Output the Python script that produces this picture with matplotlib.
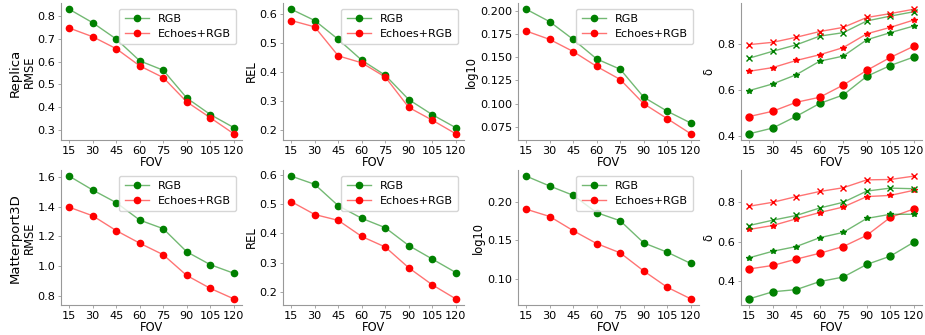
import matplotlib.pyplot as plt
import numpy as np

fov = [15, 30, 45, 60, 75, 90, 105, 120]

# Replica
rep_rmse_rgb = [0.828, 0.769, 0.698, 0.603, 0.562, 0.441, 0.369, 0.312]
rep_rmse_echo = [0.746, 0.708, 0.656, 0.581, 0.530, 0.424, 0.355, 0.285]
rep_rel_rgb = [0.617, 0.578, 0.513, 0.441, 0.389, 0.305, 0.253, 0.208]
rep_rel_echo = [0.578, 0.556, 0.456, 0.432, 0.383, 0.278, 0.234, 0.187]
rep_log_rgb = [0.2014, 0.188, 0.169, 0.148, 0.137, 0.107, 0.092, 0.0793]
rep_log_echo = [0.178, 0.169, 0.156, 0.140, 0.126, 0.100, 0.084, 0.0678]
rep_d1_rgb = [0.409, 0.434, 0.485, 0.541, 0.578, 0.659, 0.706, 0.743]
rep_d1_echo = [0.484, 0.507, 0.546, 0.568, 0.621, 0.685, 0.741, 0.790]
rep_d2_rgb = [0.597, 0.626, 0.666, 0.725, 0.747, 0.818, 0.849, 0.878]
rep_d2_echo = [0.681, 0.697, 0.728, 0.753, 0.784, 0.844, 0.872, 0.904]
rep_d3_rgb = [0.738, 0.768, 0.796, 0.834, 0.849, 0.900, 0.921, 0.940]
rep_d3_echo = [0.797, 0.807, 0.829, 0.854, 0.872, 0.915, 0.932, 0.951]

# Matterport3D
mp_rmse_rgb = [1.607, 1.513, 1.428, 1.310, 1.252, 1.096, 1.009, 0.951]
mp_rmse_echo = [1.397, 1.339, 1.239, 1.154, 1.076, 0.936, 0.849, 0.778]
mp_rel_rgb = [0.595, 0.567, 0.494, 0.451, 0.419, 0.358, 0.312, 0.266]
mp_rel_echo = [0.508, 0.464, 0.444, 0.389, 0.353, 0.282, 0.224, 0.176]
mp_log_rgb = [0.2336, 0.2207, 0.2086, 0.186, 0.1754, 0.1466, 0.1345, 0.1198]
mp_log_echo = [0.1905, 0.181, 0.1625, 0.1457, 0.1336, 0.110, 0.0888, 0.0737]
mp_d1_rgb = [0.309, 0.345, 0.356, 0.397, 0.420, 0.484, 0.526, 0.597]
mp_d1_echo = [0.461, 0.479, 0.511, 0.541, 0.575, 0.632, 0.723, 0.766]
mp_d2_rgb = [0.518, 0.551, 0.575, 0.620, 0.647, 0.718, 0.739, 0.739]
mp_d2_echo = [0.662, 0.682, 0.716, 0.748, 0.776, 0.829, 0.835, 0.861]
mp_d3_rgb = [0.682, 0.709, 0.733, 0.771, 0.800, 0.857, 0.872, 0.869]
mp_d3_echo = [0.780, 0.800, 0.829, 0.855, 0.874, 0.914, 0.916, 0.933]

row_names = ['Replica', 'Matterport3D']
metric_names = ['RMSE', 'REL', 'log10', 'δ']

W, H = 925, 335
fig = plt.figure(figsize=(W / 100, H / 100), dpi=100)

lefts = [61, 283, 518, 741]
rows = [(3, 140), (170, 305)]
axw = 181

GREEN_LINE = (0, 0.5, 0, 0.55)
RED_LINE = (1, 0, 0, 0.55)


def make_ax(r, c):
    top, bot = rows[r]
    ax = fig.add_axes([lefts[c] / W, (H - bot) / H, axw / W, (bot - top) / H])
    for s in ['top', 'right']:
        ax.spines[s].set_visible(False)
    for s in ['left', 'bottom']:
        ax.spines[s].set_color('#999999')
        ax.spines[s].set_linewidth(0.8)
    ax.tick_params(length=2, width=0.6, color='#999999', labelsize=8.1, pad=2)
    ax.set_xticks(fov)
    ax.set_xlabel('FOV', fontsize=8.3, labelpad=0.5)
    return ax


def line(ax, y, color, marker, ms):
    lc = GREEN_LINE if color == 'green' else RED_LINE
    ax.plot(fov, y, color=lc, linewidth=1)
    ax.plot(fov, y, color=color, marker=marker, linestyle='none', markersize=ms)


def pair(ax, rgb, echo, ylabel, yticks, fmt):
    line(ax, rgb, 'green', 'o', 4.5)
    line(ax, echo, 'red', 'o', 4.5)
    h1 = plt.Line2D([], [], color=GREEN_LINE, marker='o', markersize=4.5,
                    linewidth=1, markeredgecolor='green', markerfacecolor='green')
    h2 = plt.Line2D([], [], color=RED_LINE, marker='o', markersize=4.5,
                    linewidth=1, markeredgecolor='red', markerfacecolor='red')
    ax.legend([h1, h2], ['RGB', 'Echoes+RGB'], loc='upper right', fontsize=8,
              bbox_to_anchor=(1.0, 1.0), handlelength=2.2, borderpad=0.5,
              labelspacing=0.4)
    ax.set_yticks(yticks)
    ax.set_yticklabels([fmt.format(v) for v in yticks])
    ax.set_ylabel(ylabel, fontsize=8.3, labelpad=1.5)


data = [
    [(rep_rmse_rgb, rep_rmse_echo, [0.3, 0.4, 0.5, 0.6, 0.7, 0.8], '{:.1f}'),
     (rep_rel_rgb, rep_rel_echo, [0.2, 0.3, 0.4, 0.5, 0.6], '{:.1f}'),
     (rep_log_rgb, rep_log_echo, [0.075, 0.1, 0.125, 0.15, 0.175, 0.2], '{:.3f}')],
    [(mp_rmse_rgb, mp_rmse_echo, [0.8, 1.0, 1.2, 1.4, 1.6], '{:.1f}'),
     (mp_rel_rgb, mp_rel_echo, [0.2, 0.3, 0.4, 0.5, 0.6], '{:.1f}'),
     (mp_log_rgb, mp_log_echo, [0.1, 0.15, 0.2], '{:.2f}')],
]
deltas = [
    (rep_d1_rgb, rep_d1_echo, rep_d2_rgb, rep_d2_echo, rep_d3_rgb, rep_d3_echo),
    (mp_d1_rgb, mp_d1_echo, mp_d2_rgb, mp_d2_echo, mp_d3_rgb, mp_d3_echo),
]

for r in range(2):
    for c in range(3):
        ax = make_ax(r, c)
        rgb, echo, ticks, fmt = data[r][c]
        pair(ax, rgb, echo, metric_names[c], ticks, fmt)
    ax = make_ax(r, 3)
    d1g, d1r, d2g, d2r, d3g, d3r = deltas[r]
    line(ax, d1g, 'green', 'o', 5)
    line(ax, d1r, 'red', 'o', 5)
    line(ax, d2g, 'green', '*', 4)
    line(ax, d2r, 'red', '*', 4)
    line(ax, d3g, 'green', 'x', 5)
    line(ax, d3r, 'red', 'x', 5)
    ax.set_yticks([0.4, 0.6, 0.8])
    ax.set_ylabel(metric_names[3], fontsize=8.3, labelpad=1.5)

    top, bot = rows[r]
    fig.text(15 / W, 1 - ((top + bot) / 2 + 1) / H, row_names[r], rotation=90,
             ha='center', va='center', fontsize=9.5)

plt.savefig('out.png', dpi=100)
